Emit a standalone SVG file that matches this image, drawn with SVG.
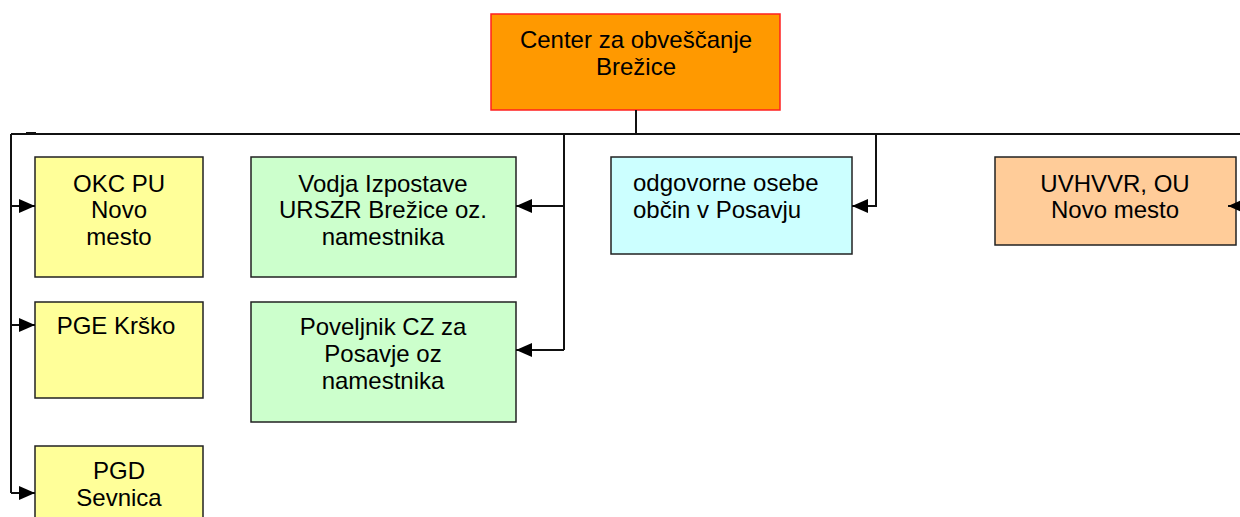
<svg xmlns="http://www.w3.org/2000/svg" width="1240" height="517" viewBox="0 0 1240 517">
<defs>
<marker id="ah" markerWidth="16" markerHeight="14" refX="16" refY="7" orient="auto" markerUnits="userSpaceOnUse">
<path d="M0,0 L16,7 L0,14 Z" fill="#000"/>
</marker>
<style>
.box{stroke:#222;stroke-width:1.5}
.t{font-family:"Liberation Sans",Arial,sans-serif;font-size:24px;fill:#000}
.c{text-anchor:middle}
.ln{fill:none;stroke:#111;stroke-width:2}
</style>
</defs>
<rect width="1240" height="517" fill="#fff"/>
<g id="center">
<rect x="491" y="14" width="289" height="96" fill="#FF9900" stroke="#FF2020" stroke-width="1.5"/>
<text class="t c" x="636" y="48">Center za obveščanje</text>
<text class="t c" x="636" y="75">Brežice</text>
</g>
<g id="okc">
<rect class="box" x="35" y="157" width="168" height="120" fill="#FFFF99"/>
<text class="t c" x="119" y="192">OKC PU</text>
<text class="t c" x="119" y="218">Novo</text>
<text class="t c" x="119" y="245">mesto</text>
</g>
<g id="pge">
<rect class="box" x="35" y="302" width="168" height="96" fill="#FFFF99"/>
<text class="t c" x="116" y="334">PGE Krško</text>
</g>
<g id="pgd">
<rect class="box" x="35" y="446" width="168" height="80" fill="#FFFF99"/>
<text class="t c" x="119" y="479">PGD</text>
<text class="t c" x="119" y="506">Sevnica</text>
</g>
<g id="vodja">
<rect class="box" x="251" y="157" width="265" height="120" fill="#CCFFCC"/>
<text class="t c" x="383" y="192">Vodja Izpostave</text>
<text class="t c" x="383" y="218">URSZR Brežice oz.</text>
<text class="t c" x="383" y="245">namestnika</text>
</g>
<g id="poveljnik">
<rect class="box" x="251" y="302" width="265" height="120" fill="#CCFFCC"/>
<text class="t c" x="383" y="335">Poveljnik CZ za</text>
<text class="t c" x="383" y="362">Posavje oz</text>
<text class="t c" x="383" y="389">namestnika</text>
</g>
<g id="odgovorne">
<rect class="box" x="611" y="157" width="241" height="97" fill="#CCFFFF"/>
<text class="t" x="633" y="191">odgovorne osebe</text>
<text class="t" x="633" y="218">občin v Posavju</text>
</g>
<g id="uvhvvr">
<rect class="box" x="995" y="157" width="241" height="88" fill="#FFCC99"/>
<text class="t c" x="1115" y="192">UVHVVR, OU</text>
<text class="t c" x="1115" y="218">Novo mesto</text>
</g>
<g id="connectors">
<path class="ln" d="M636,110 V134"/>
<path class="ln" d="M11,134 H1240"/>
<path class="ln" d="M26,133 H36" stroke-width="3"/>
<path class="ln" d="M11,134 V493"/>
<path class="ln" d="M11,206 H35" marker-end="url(#ah)"/>
<path class="ln" d="M11,325 H35" marker-end="url(#ah)"/>
<path class="ln" d="M11,493 H35" marker-end="url(#ah)"/>
<path class="ln" d="M564,134 V350"/>
<path class="ln" d="M564,206 H516" marker-end="url(#ah)"/>
<path class="ln" d="M564,350 H516" marker-end="url(#ah)"/>
<path class="ln" d="M876,134 V206 H852" marker-end="url(#ah)"/>
<path class="ln" d="M1244,206 H1228" marker-end="url(#ah)"/>
</g>
</svg>
